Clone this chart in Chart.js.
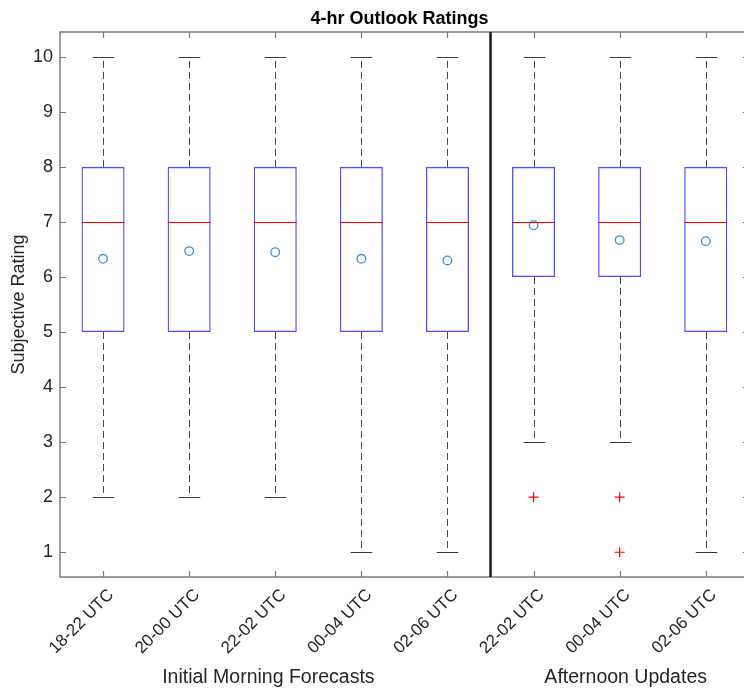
<!DOCTYPE html>
<html>
<head>
<meta charset="utf-8">
<title>4-hr Outlook Ratings</title>
<script src="https://cdn.jsdelivr.net/npm/chart.js@4.4.1/dist/chart.umd.min.js"></script>
<style>
    html, body { margin: 0; padding: 0; background: #fff; overflow: hidden; }
    #wrap { position: relative; width: 755px; height: 690px; }
</style>
</head>
<body>
<div id="wrap"><canvas id="boxChart" width="755" height="690"></canvas></div>
<script>
// forecast windows (first five = morning, last three = afternoon)
const labels = ['18-22 UTC', '20-00 UTC', '22-02 UTC', '00-04 UTC', '02-06 UTC', '22-02 UTC', '00-04 UTC', '02-06 UTC'];
const whiskerLow = [2, 2, 2, 1, 1, 3, 3, 1];
const q1 = [5, 5, 5, 5, 5, 6, 6, 5];
const medians = [7, 7, 7, 7, 7, 7, 7, 7];
const q3 = [8, 8, 8, 8, 8, 8, 8, 8];
const whiskerHigh = [10, 10, 10, 10, 10, 10, 10, 10];
const means = [6.33, 6.47, 6.45, 6.33, 6.30, 6.94, 6.67, 6.65];
const outliers = [[], [], [], [], [], [2], [2, 1], []];
const yTicks = [1, 2, 3, 4, 5, 6, 7, 8, 9, 10];
const groupNames = ['Initial Morning Forecasts', 'Afternoon Updates'];
const groupCenters = [1.92, 6.07]; // in category units

const fontFamily = '"Liberation Sans", Arial, Helvetica, sans-serif';
const axisColor = '#7a7a7a';
const textColor = '#262626';

// outlier datasets, one per outlier rank
let outlierSets = [];
const maxOut = Math.max(...outliers.map(o => o.length));
for (let k = 0; k < maxOut; k++) {
    outlierSets.push({
        type: 'line',
        data: outliers.map(o => o[k] !== undefined ? o[k] : null),
        showLine: false,
        pointStyle: 'cross',
        pointRadius: 5,
        pointBorderColor: '#ff0000',
        pointBorderWidth: 1.2,
        order: 0
    });
}

// whiskers, caps, medians, axes frame, title and group labels
const boxExtras = {
    id: 'boxExtras',
    beforeDatasetsDraw(chart) {
        const { ctx, scales: { x, y } } = chart;
        const step = x.getPixelForValue(1) - x.getPixelForValue(0);
        ctx.save();
        ctx.lineWidth = 1;
        for (let i = 0; i < labels.length; i++) {
            const cx = Math.round(x.getPixelForValue(i)) + 0.5;
            // dashed whiskers
            ctx.strokeStyle = '#4a4a4a';
            ctx.setLineDash([7, 4]);
            ctx.beginPath();
            ctx.moveTo(cx, y.getPixelForValue(q3[i]));
            ctx.lineTo(cx, y.getPixelForValue(whiskerHigh[i]));
            ctx.moveTo(cx, y.getPixelForValue(q1[i]));
            ctx.lineTo(cx, y.getPixelForValue(whiskerLow[i]));
            ctx.stroke();
            // caps
            ctx.setLineDash([]);
            ctx.strokeStyle = '#3a3a3a';
            const half = step * 0.125;
            ctx.beginPath();
            const yh = Math.round(y.getPixelForValue(whiskerHigh[i])) + 0.5;
            const yl = Math.round(y.getPixelForValue(whiskerLow[i])) + 0.5;
            ctx.moveTo(cx - half, yh);
            ctx.lineTo(cx + half, yh);
            ctx.moveTo(cx - half, yl);
            ctx.lineTo(cx + half, yl);
            ctx.stroke();
        }
        ctx.restore();
    },
    afterDatasetsDraw(chart) {
        const { ctx, chartArea, scales: { x, y } } = chart;
        const step = x.getPixelForValue(1) - x.getPixelForValue(0);
        ctx.save();
        // medians
        ctx.strokeStyle = '#ff0000';
        ctx.lineWidth = 1;
        for (let i = 0; i < labels.length; i++) {
            const cx = x.getPixelForValue(i);
            const ym = Math.round(y.getPixelForValue(medians[i])) + 0.5;
            ctx.beginPath();
            ctx.moveTo(cx - step * 0.25, ym);
            ctx.lineTo(cx + step * 0.25, ym);
            ctx.stroke();
        }
        // frame
        const { left, right, top, bottom } = chartArea;
        ctx.strokeStyle = axisColor;
        ctx.lineWidth = 1.5;
        ctx.strokeRect(left, top, right - left, bottom - top);
        // inward tick marks
        ctx.lineWidth = 1.2;
        ctx.beginPath();
        yTicks.forEach(v => {
            const py = Math.round(y.getPixelForValue(v)) + 0.5;
            ctx.moveTo(left, py); ctx.lineTo(left + 6, py);
            ctx.moveTo(right, py); ctx.lineTo(right - 6, py);
        });
        for (let i = 0; i < labels.length; i++) {
            const px = Math.round(x.getPixelForValue(i)) + 0.5;
            ctx.moveTo(px, top); ctx.lineTo(px, top + 6);
            ctx.moveTo(px, bottom); ctx.lineTo(px, bottom - 6);
        }
        ctx.stroke();
        // separator between morning and afternoon groups
        const sx = x.getPixelForValue(4.5);
        ctx.strokeStyle = '#1a1a1a';
        ctx.lineWidth = 2.5;
        ctx.beginPath();
        ctx.moveTo(sx, top);
        ctx.lineTo(sx, bottom);
        ctx.stroke();
        // title
        ctx.fillStyle = '#000';
        ctx.font = 'bold 18px ' + fontFamily;
        ctx.textAlign = 'center';
        ctx.textBaseline = 'alphabetic';
        ctx.fillText('4-hr Outlook Ratings', (left + right) / 2 - 5, 24);
        // group labels under the tick labels
        ctx.fillStyle = textColor;
        ctx.font = '19.5px ' + fontFamily;
        ctx.textBaseline = 'middle';
        groupNames.forEach((name, g) => {
            ctx.fillText(name, x.getPixelForValue(groupCenters[g]), 678);
        });
        ctx.restore();
    }
};

const ctx = document.getElementById('boxChart').getContext('2d');
const boxChart = new Chart(ctx, {
    type: 'bar',
    data: {
        labels: labels,
        datasets: [{
            label: 'IQR',
            data: labels.map((_, i) => [q1[i], q3[i]]),
            backgroundColor: 'rgba(0,0,0,0)',
            borderColor: '#4d4dff',
            borderWidth: 1.3,
            borderSkipped: false,
            barPercentage: 0.5,
            categoryPercentage: 1,
            order: 2
        }, {
            type: 'line',
            label: 'Mean',
            data: means,
            showLine: false,
            pointStyle: 'circle',
            pointRadius: 4.3,
            pointBorderWidth: 1.3,
            pointBorderColor: '#3a93d6',
            pointBackgroundColor: 'rgba(0,0,0,0)',
            order: 1
        }, ...outlierSets]
    },
    options: {
        responsive: false,
        animation: false,
        devicePixelRatio: 1,
        layout: { padding: { left: 0, right: 0, top: 32, bottom: 0 } },
        plugins: {
            legend: { display: false },
            tooltip: { enabled: false },
            title: { display: false }
        },
        scales: {
            x: {
                type: 'category',
                offset: true,
                grid: { display: false, drawTicks: false },
                border: { display: false },
                ticks: {
                    autoSkip: false,
                    maxRotation: 45,
                    minRotation: 45,
                    padding: 8,
                    labelOffset: 8,
                    color: textColor,
                    font: { family: fontFamily, size: 17 }
                },
                afterFit: s => { s.height = 113; }
            },
            y: {
                min: 0.55,
                max: 10.45,
                grid: { display: false, drawTicks: false },
                border: { display: false },
                afterBuildTicks: s => { s.ticks = yTicks.map(v => ({ value: v })); },
                ticks: {
                    padding: 7,
                    color: textColor,
                    font: { family: fontFamily, size: 18 }
                },
                title: {
                    display: true,
                    text: 'Subjective Rating',
                    color: textColor,
                    font: { family: fontFamily, size: 18 },
                    padding: { top: 8, bottom: 0 }
                },
                afterFit: s => { s.width = 60; }
            }
        }
    },
    plugins: [boxExtras]
});
</script>
</body>
</html>
